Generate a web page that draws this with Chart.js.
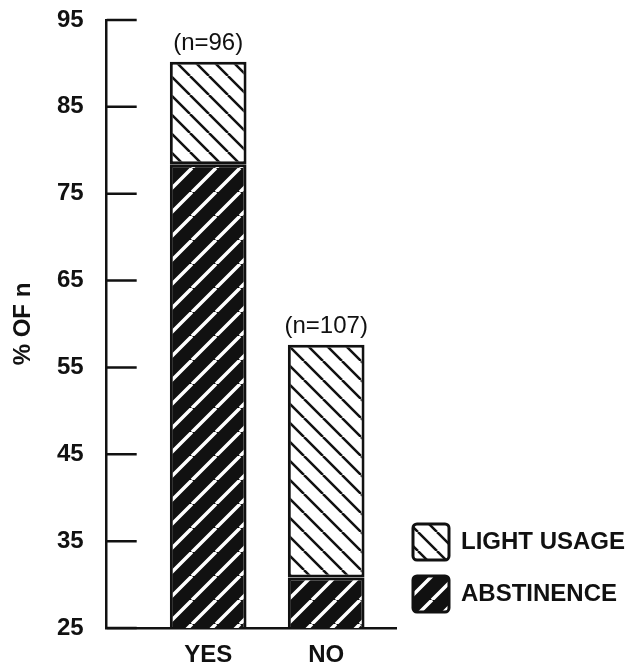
<!DOCTYPE html>
<html>
<head>
<meta charset="utf-8">
<script src="https://cdn.jsdelivr.net/npm/chart.js@4.4.1/dist/chart.umd.min.js"></script>
<style>
  html, body { margin: 0; padding: 0; background: #fff; }
  #wrap { width: 638px; height: 666px; }
</style>
</head>
<body>
<div id="wrap"><canvas id="chart" width="638" height="666"></canvas></div>
<script>
const categories = ['YES', 'NO'];
const abstinence = [78.4, 30.8];
const lightUsage = [11.8, 26.8];
const sampleSizes = [96, 107];
const yTicks = [25, 35, 45, 55, 65, 75, 85, 95];

Chart.defaults.font.family = '"Liberation Sans", Arial, sans-serif';
Chart.defaults.color = '#111';

const canvas = document.getElementById('chart');
const ctx = canvas.getContext('2d');

// diagonal hatch tiles
function hatch(bg, fg, size, lw, dir) {
    const c = document.createElement('canvas');
    c.width = size;
    c.height = size;
    const g = c.getContext('2d');
    g.fillStyle = bg;
    g.fillRect(0, 0, size, size);
    g.strokeStyle = fg;
    g.lineWidth = lw;
    g.beginPath();
    for (const o of [-size, 0, size]) {
        if (dir === '/') { g.moveTo(o, size); g.lineTo(o + size, 0); }
        else { g.moveTo(o, 0); g.lineTo(o + size, size); }
    }
    g.stroke();
    return ctx.createPattern(c, 'repeat');
}

const abstPattern = hatch('#111', '#fff', 24, 3.5, '/');
const lightPattern = hatch('#fff', '#111', 19, 2.5, '\\');

// tick marks pointing into the plot, like the original
const innerTicks = {
    id: 'innerTicks',
    afterDraw(chart) {
        const y = chart.scales.y;
        const left = chart.chartArea.left;
        const c = chart.ctx;
        c.save();
        c.strokeStyle = '#111';
        c.lineWidth = 2.5;
        c.beginPath();
        y.ticks.forEach(t => {
            const py = y.getPixelForValue(t.value);
            c.moveTo(left, py);
            c.lineTo(left + 30, py);
        });
        c.stroke();
        c.restore();
    }
};

const sampleLabels = {
    id: 'sampleLabels',
    afterDatasetsDraw(chart) {
        const meta = chart.getDatasetMeta(1);
        const c = chart.ctx;
        c.save();
        c.font = '24px "Liberation Sans", Arial, sans-serif';
        c.fillStyle = '#111';
        c.textAlign = 'center';
        c.textBaseline = 'middle';
        meta.data.forEach((bar, i) => {
            c.fillText('(n=' + sampleSizes[i] + ')', bar.x, bar.y - 18);
        });
        c.restore();
    }
};

new Chart(ctx, {
    type: 'bar',
    data: {
        datasets: [
            {
                label: 'ABSTINENCE',
                data: abstinence.map((v, i) => ({ x: i + 1, y: v })),
                backgroundColor: abstPattern,
                borderColor: '#111',
                borderWidth: 3,
                borderSkipped: false
            },
            {
                label: 'LIGHT USAGE',
                data: lightUsage.map((v, i) => ({ x: i + 1, y: v })),
                backgroundColor: lightPattern,
                borderColor: '#111',
                borderWidth: 3,
                borderSkipped: false
            }
        ]
    },
    options: {
        responsive: false,
        animation: false,
        barPercentage: 0.65,
        categoryPercentage: 1,
        layout: { padding: { top: 20, right: 3, bottom: 0, left: 0 } },
        scales: {
            x: {
                type: 'linear',
                stacked: true,
                offset: false,
                bounds: 'data',
                min: 0.14,
                max: 2.6,
                afterBuildTicks: (scale) => { scale.ticks = categories.map((c, i) => ({ value: i + 1 })); },
                grid: { display: true, drawOnChartArea: false, drawTicks: true, tickLength: 17, tickColor: 'rgba(0,0,0,0)' },
                border: { color: '#111', width: 2.5 },
                ticks: {
                    padding: 0,
                    font: { size: 24, weight: 'bold', lineHeight: 0.875 },
                    callback: (v) => categories[v - 1] || ''
                }
            },
            y: {
                stacked: true,
                min: 25,
                max: 95,
                afterBuildTicks: (scale) => { scale.ticks = yTicks.map(v => ({ value: v })); },
                grid: { drawOnChartArea: false, drawTicks: true, tickLength: 23, tickColor: 'rgba(0,0,0,0)' },
                border: { color: '#111', width: 2.5 },
                ticks: { padding: 0, font: { size: 24, weight: 'bold' } },
                title: {
                    display: true,
                    text: '% OF n',
                    font: { size: 24, weight: 'bold', lineHeight: 1 },
                    padding: { top: 11, bottom: 22 }
                }
            }
        },
        plugins: {
            legend: {
                position: 'right',
                align: 'end',
                fullSize: false,
                reverse: true,
                maxWidth: 320,
                labels: {
                    boxWidth: 36,
                    boxHeight: 36,
                    padding: 16,
                    useBorderRadius: true,
                    borderRadius: 4,
                    color: '#111',
                    font: { size: 24, weight: 'bold' }
                }
            },
            tooltip: { enabled: false }
        }
    },
    plugins: [innerTicks, sampleLabels]
});
</script>
</body>
</html>
